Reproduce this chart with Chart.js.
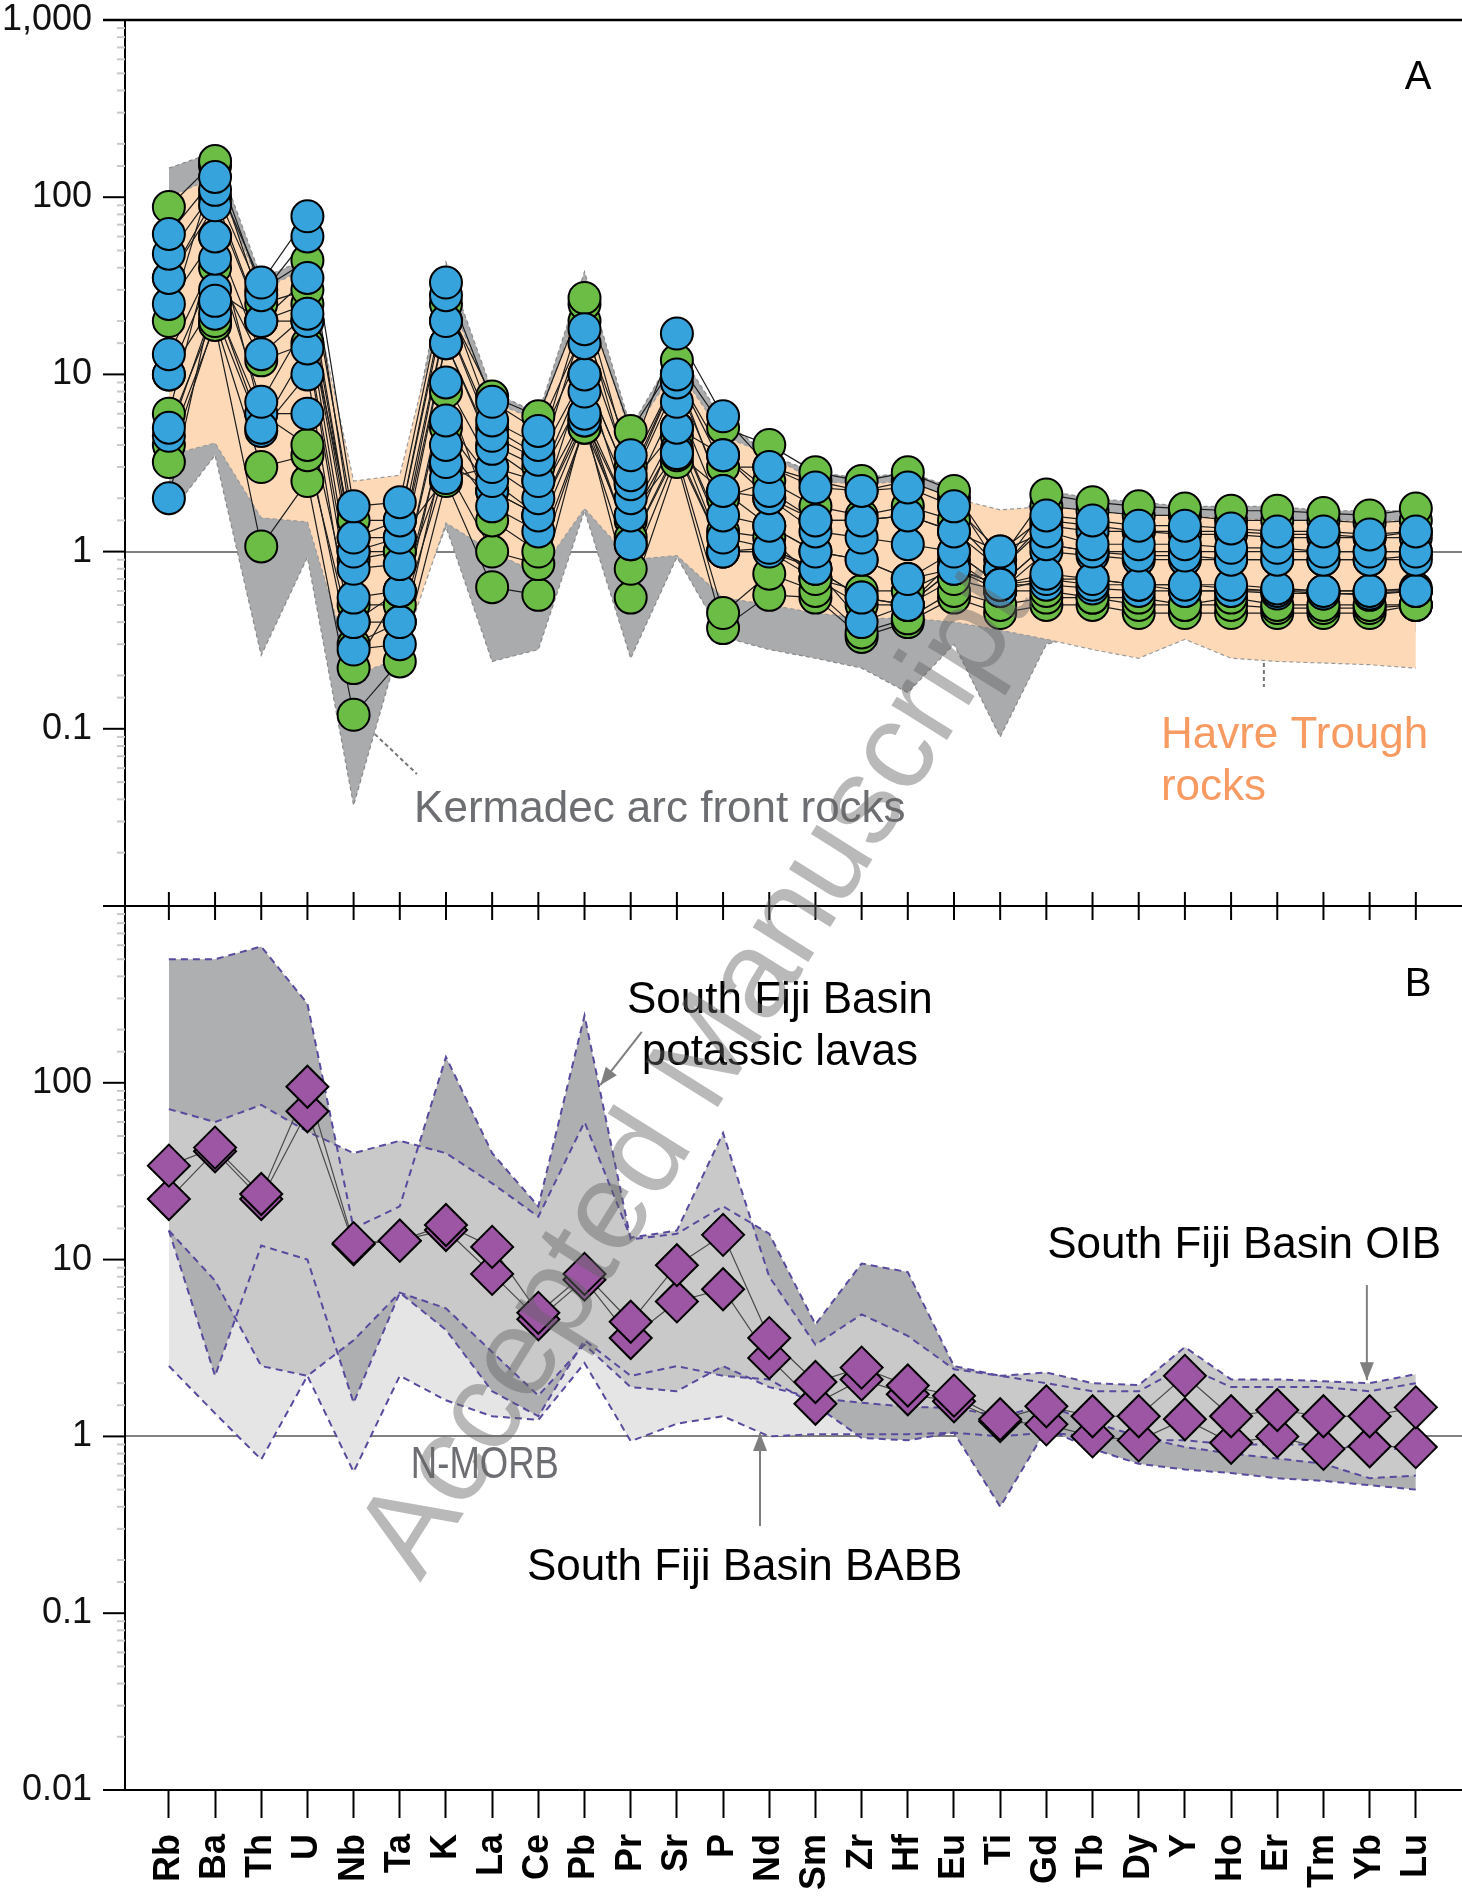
<!DOCTYPE html>
<html lang="en">
<head>
<meta charset="UTF-8" />
<title>Primitive mantle normalised trace elements</title>
<script src="https://cdn.jsdelivr.net/npm/chart.js"></script>
<style>
  body { margin: 0; background: #fff; }
  #wrap { position: relative; width: 1462px; height: 1896px; }
  #wrap canvas { position: absolute; left: 0; top: 0; }
</style>
</head>
<body>
<div id="wrap">
  <canvas id="chartA" width="1462" height="940"></canvas>
  <canvas id="chartB" width="1462" height="1896"></canvas>
</div>
<script>
// ---- data ----
const elements = ['Rb','Ba','Th','U','Nb','Ta','K','La','Ce','Pb','Pr','Sr','P','Nd','Sm','Zr','Hf','Eu','Ti','Gd','Tb','Dy','Y','Ho','Er','Tm','Yb','Lu'];

// panel A fields
const kermadecUpper = [146, 180, 35, 45, 2.0, 2.0, 43, 8, 6, 38, 5, 14, 5.5, 3.5, 2.8, 2.6, 2.8, 2.3, 1.3, 2.2, 2.0, 1.9, 1.8, 1.8, 1.8, 1.7, 1.7, 1.7];
const kermadecLower = [1.6, 3.5, 0.26, 0.93, 0.037, 0.3, 1.38, 0.24, 0.28, 1.7, 0.25, 0.93, 0.33, 0.28, 0.25, 0.22, 0.16, 0.3, 0.09, 0.3, 0.35, 0.35, 0.33, 0.35, 0.35, 0.35, 0.35, 0.35];
const havreUpper = [100, 130, 30, 40, 2.5, 2.7, 30, 7, 5.5, 30, 4.5, 11, 4.5, 3.5, 2.5, 2.4, 2.5, 2.0, 1.72, 1.8, 1.7, 1.6, 1.6, 1.55, 1.5, 1.5, 1.5, 1.5];
const havreLower = [3.5, 4.1, 1.55, 1.47, 0.2, 0.25, 1.45, 1.0, 0.75, 1.75, 0.9, 0.95, 0.55, 0.5, 0.45, 0.42, 0.42, 0.4, 0.36, 0.32, 0.28, 0.25, 0.32, 0.25, 0.24, 0.235, 0.23, 0.22];

// panel A samples
const blueSamples = [
  [62, 130, 33, 78, 1.8, 1.9, 33, 7.0, 4.8, 18, 3.5, 17, 5.8, 3.0, 2.3, 2.2, 2.3, 1.8, 1.0, 1.6, 1.5, 1.4, 1.4, 1.35, 1.3, 1.3, 1.25, 1.3],
  [48, 110, 28, 60, 1.2, 1.5, 28, 5.5, 4.0, 15, 2.7, 10, 3.5, 2.2, 1.5, 1.5, 1.6, 1.3, 1.0, 1.3, 1.1, 1.1, 1.1, 1.05, 1.05, 1.0, 1.0, 1.0],
  [35, 90, 20, 35, 1.0, 1.2, 20, 4.5, 3.3, 10, 2.4, 9, 2.2, 2.0, 1.3, 1.2, 1.1, 1.0, 0.65, 1.1, 1.0, 0.95, 0.95, 0.9, 0.9, 0.9, 0.9, 0.9],
  [25, 60, 13, 22, 0.8, 0.85, 15, 3.8, 2.5, 8, 2.0, 7, 1.6, 1.4, 1.0, 0.9, 0.7, 0.8, 0.65, 0.75, 0.7, 0.65, 0.65, 0.65, 0.62, 0.6, 0.6, 0.6],
  [13, 45, 7, 20, 0.55, 0.6, 9, 3.0, 2.0, 6, 1.6, 5, 1.2, 1.05, 0.8, 0.55, 0.5, 0.8, 0.65, 0.7, 0.65, 0.65, 0.6, 0.6, 0.6, 0.58, 0.58, 0.6],
  [10, 26, 5, 14, 0.4, 0.4, 5.5, 2.5, 1.6, 5.5, 1.1, 3.6, 1.0, 1.0, 0.8, 0.4, 0.5, 0.9, 0.6, 1.0, 0.95, 0.9, 0.9, 0.9, 0.9, 0.9, 0.9, 0.95],
  [5, 22, 4.8, 10, 0.28, 0.3, 4, 1.8, 1.3, 5.5, 1.6, 3.6, 2.2, 1.4, 1.0, 0.9, 0.7, 1.0, 0.65, 1.1, 1.0, 1.0, 1.0, 1.0, 1.0, 1.0, 1.0, 1.0],
  [4.5, 25, 6, 6, 0.4, 0.6, 3.2, 2.2, 1.6, 6, 1.1, 3.8, 1.0, 1.05, 0.8, 0.55, 0.5, 0.8, 0.65, 0.65, 0.62, 0.6, 0.6, 0.6, 0.58, 0.58, 0.57, 0.6],
  [2.0, 30, 20, 20, 1.2, 1.2, 2.6, 3.0, 2.5, 10, 2.4, 5, 3.5, 2.0, 1.5, 1.5, 1.6, 1.3, 0.8, 1.4, 1.3, 1.3, 1.25, 1.25, 1.2, 1.2, 1.2, 1.2]
];
const greenSamples = [
  [88, 160, 30, 44, 1.5, 1.5, 25, 7.5, 5.8, 27, 4.8, 12, 5, 4.0, 2.8, 2.5, 2.8, 2.2, 0.9, 2.1, 1.9, 1.8, 1.75, 1.7, 1.7, 1.65, 1.6, 1.75],
  [20, 150, 25, 30, 1.0, 1.0, 20, 5, 3.5, 25, 3.0, 10, 3.0, 3.0, 2.5, 2.2, 2.5, 2.0, 0.8, 1.8, 1.7, 1.6, 1.6, 1.5, 1.5, 1.5, 1.45, 1.5],
  [6, 60, 6, 4, 0.22, 0.6, 8, 1.5, 1.0, 5, 1.2, 5, 1.3, 1.2, 0.7, 0.5, 0.5, 0.7, 0.6, 0.6, 0.55, 0.55, 0.5, 0.55, 0.5, 0.5, 0.5, 0.5],
  [3.2, 20, 3.0, 3.5, 0.3, 0.4, 3.0, 1.0, 0.85, 5, 0.8, 3.5, 0.45, 0.75, 0.6, 0.35, 0.42, 0.6, 0.5, 0.55, 0.55, 0.5, 0.5, 0.5, 0.48, 0.48, 0.48, 0.5],
  [4, 19, 1.07, 2.5, 0.12, 0.24, 2.5, 0.63, 0.57, 5.5, 0.55, 3.2, 0.37, 0.57, 0.55, 0.33, 0.4, 0.55, 0.45, 0.5, 0.5, 0.45, 0.45, 0.45, 0.45, 0.45, 0.45, 0.5],
  [10, 40, 12, 15, 0.5, 0.5, 5, 2.2, 1.6, 10, 1.5, 4.5, 1.0, 1.0, 0.7, 0.6, 0.6, 0.8, 0.6, 0.7, 0.7, 0.65, 0.65, 0.62, 0.6, 0.6, 0.6, 0.62],
  [35, 100, 20, 25, 0.9, 1.0, 15, 4, 3, 20, 2.5, 10, 2.0, 2.5, 1.8, 1.6, 1.8, 1.5, 0.8, 1.5, 1.4, 1.3, 1.3, 1.3, 1.25, 1.25, 1.2, 1.3]
];

// panel B fields
const potassicUpper = [500, 500, 590, 280, 15, 20, 140, 40, 20, 240, 13, 14, 20, 14, 4.3, 9.5, 8.5, 2.5, 2.2, 2.0, 1.8, 1.8, 2.5, 1.9, 1.9, 1.9, 1.8, 2.0];
const potassicLower = [14.6, 2.2, 12, 10, 1.55, 6.5, 4, 1.8, 1.3, 3.5, 2.2, 2.5, 2.2, 2.1, 1.5, 0.98, 0.95, 1.05, 0.4, 1.1, 0.85, 0.7, 0.65, 0.62, 0.58, 0.56, 0.53, 0.5];
const oibUpper = [71, 60, 75, 53, 40, 47, 40, 27, 17.5, 60, 13.3, 14.6, 52, 8, 3.3, 4.9, 3.7, 2.4, 2.2, 2.3, 2.0, 1.95, 3.2, 2.1, 2.1, 2.05, 2.0, 2.25];
const oibLower = [14.6, 7.6, 2.5, 2.2, 3.5, 6.5, 5.3, 3.0, 1.7, 3.3, 1.9, 1.8, 2.5, 1.9, 1.65, 1.55, 1.47, 1.45, 1.3, 1.5, 1.2, 1.0, 0.87, 0.8, 0.75, 0.7, 0.58, 0.6];
const babbUpper = oibLower;
const babbLower = [2.5, 1.35, 0.74, 2.2, 0.63, 2.2, 1.6, 1.3, 1.24, 2.6, 0.94, 1.18, 1.3, 1.0, 1.03, 1.03, 1.03, 1.05, 1.0, 1.05, 1.0, 0.95, 0.95, 0.9, 0.9, 0.9, 0.85, 0.85];

// panel B samples
const fijiSampleA = [34, 43, 23.5, 95, 12.4, 12.8, 15.7, 11.8, 5.0, 8.3, 4.45, 9.3, 13.8, 3.6, 2.03, 2.45, 1.94, 1.7, 1.25, 1.48, 1.3, 1.3, 2.2, 1.3, 1.41, 1.3, 1.3, 1.46];
const fijiSampleB = [22, 41, 22, 69, 12.2, 12.8, 14.7, 8.3, 4.6, 7.7, 3.6, 5.8, 6.8, 2.78, 1.53, 2.1, 1.73, 1.58, 1.22, 1.17, 1.0, 0.95, 1.25, 0.92, 1.0, 0.85, 0.88, 0.87];

// ---- helpers ----
const FONT = '"Liberation Sans", Arial, Helvetica, sans-serif';
const xy = arr => arr.map((v, i) => ({ x: i, y: v }));
const isDecade = v => Math.abs(Math.log10(v) - Math.round(Math.log10(v))) < 1e-6;

function pointSet(vals, color, style, r) {
  return { data: xy(vals), showLine: false, pointStyle: style, pointRadius: r,
           pointBackgroundColor: color, pointBorderColor: '#000', pointBorderWidth: 2 };
}
function lineSet(vals, color, w) {
  return { data: xy(vals), borderColor: color, borderWidth: w, pointRadius: 0, fill: false };
}
function outlineSet(vals, color, w, dash) {
  return { data: xy(vals), borderColor: color, borderWidth: w, borderDash: dash, pointRadius: 0, fill: false };
}
// upper + lower pair; lower fills up to the previous dataset
function band(upper, lower, fillColor, lineColor, w, dash) {
  return [
    { data: xy(upper), borderColor: lineColor, borderWidth: w, borderDash: dash, pointRadius: 0, fill: false },
    { data: xy(lower), borderColor: lineColor, borderWidth: w, borderDash: dash, pointRadius: 0,
      fill: '-1', backgroundColor: fillColor }
  ];
}

function yAxis(labelFn) {
  return {
    type: 'logarithmic', min: 0.01, max: 1000,
    afterFit: s => { s.width = 125; s.paddingTop = 0; s.paddingBottom = 0; },
    border: { display: true, color: '#000', width: 2 },
    grid: {
      drawTicks: false, lineWidth: 2,
      color: c => (c.tick && c.tick.value === 1) ? '#808080' : 'rgba(0,0,0,0)'
    },
    ticks: {
      autoSkip: false, padding: 33, color: '#111',
      font: { family: FONT, size: 36 },
      callback: labelFn
    }
  };
}
const xBase = { type: 'linear', min: -0.95, max: 28,
  afterBuildTicks: s => { s.ticks = elements.map((e, i) => ({ value: i })); } };

// frame, ticks and annotations
const frame = {
  id: 'frame',
  afterDraw(chart, args, opts) {
    const ctx = chart.ctx, xs = chart.scales.x, ys = chart.scales.y, a = chart.chartArea;
    const P = (i, v) => [xs.getPixelForValue(i), ys.getPixelForValue(v)];
    ctx.save();
    ys.ticks.forEach(t => {
      const py = ys.getPixelForValue(t.value);
      const major = isDecade(t.value);
      ctx.strokeStyle = major ? '#000' : '#c9c9c9';
      ctx.lineWidth = 2;
      ctx.beginPath();
      ctx.moveTo(a.left - (major ? 22 : 8), py);
      ctx.lineTo(a.left, py);
      ctx.stroke();
    });
    ctx.strokeStyle = '#000';
    (opts.hlines || []).forEach(h => {
      const py = h === 'top' ? a.top : a.bottom;
      ctx.lineWidth = h === 'top' ? 2.5 : 2;
      ctx.beginPath(); ctx.moveTo(a.left - 22, py); ctx.lineTo(a.right, py); ctx.stroke();
    });
    if (opts.cross) {
      ctx.lineWidth = 2;
      elements.forEach((e, i) => {
        const px = xs.getPixelForValue(i);
        ctx.beginPath(); ctx.moveTo(px, a.bottom - 14); ctx.lineTo(px, a.bottom + 14); ctx.stroke();
      });
    }
    (opts.notes || []).forEach(n => {
      const [px, py] = P(n.i, n.v);
      ctx.fillStyle = n.color || '#000';
      ctx.font = (n.size || 44) + 'px ' + FONT;
      ctx.textAlign = n.align || 'left';
      ctx.textBaseline = n.base || 'alphabetic';
      ctx.save();
      ctx.translate(px, py);
      ctx.scale(n.sx || 1, 1);
      ctx.fillText(n.text, 0, 0);
      ctx.restore();
    });
    (opts.leaders || []).forEach(l => {
      const [x1, y1] = P(l.from[0], l.from[1]);
      const [x2, y2] = P(l.to[0], l.to[1]);
      ctx.strokeStyle = l.color; ctx.lineWidth = 2;
      ctx.setLineDash(l.dash || []);
      ctx.beginPath(); ctx.moveTo(x1, y1); ctx.lineTo(x2, y2); ctx.stroke();
      ctx.setLineDash([]);
      if (l.arrow) {
        const ang = Math.atan2(y2 - y1, x2 - x1);
        ctx.fillStyle = l.color;
        ctx.beginPath();
        ctx.moveTo(x2, y2);
        ctx.lineTo(x2 - 18 * Math.cos(ang) + 7 * Math.sin(ang), y2 - 18 * Math.sin(ang) - 7 * Math.cos(ang));
        ctx.lineTo(x2 - 18 * Math.cos(ang) - 7 * Math.sin(ang), y2 - 18 * Math.sin(ang) + 7 * Math.cos(ang));
        ctx.closePath(); ctx.fill();
      }
    });
    if (opts.watermark) {
      const w = opts.watermark;
      ctx.save();
      ctx.translate(w.x, w.y);
      ctx.rotate(w.angle * Math.PI / 180);
      ctx.font = w.size + 'px ' + FONT;
      ctx.fillStyle = 'rgba(100,100,100,0.45)';
      ctx.textAlign = 'center'; ctx.textBaseline = 'middle';
      ctx.fillText(w.text, 0, 0);
      ctx.restore();
    }
    ctx.restore();
  }
};

// ---- panel A ----
const dsA = [];
blueSamples.forEach(s => dsA.push(pointSet(s, '#36a3dc', 'circle', 16)));
greenSamples.forEach(s => dsA.push(pointSet(s, '#6bbd45', 'circle', 16)));
blueSamples.concat(greenSamples).forEach(s => dsA.push(lineSet(s, '#1c1c1c', 1.2)));
dsA.push(...band(havreUpper, havreLower, '#fdd9b7', '#9a9a9a', 1.2, [4, 3]));
dsA.push(...band(kermadecUpper, kermadecLower, '#a9abad', '#8a8a8a', 1.2, [4, 3]));

new Chart(document.getElementById('chartA'), {
  type: 'line',
  data: { datasets: dsA },
  options: {
    responsive: false, animation: false, devicePixelRatio: 1, events: [],
    layout: { autoPadding: false, padding: { top: 20, bottom: 34, left: 0, right: 0 } },
    elements: { line: { tension: 0 } },
    scales: {
      x: Object.assign({ display: false }, xBase),
      y: yAxis(v => (isDecade(v) && v >= 0.1) ? (v === 1000 ? '1,000' : String(v)) : '')
    },
    plugins: {
      legend: { display: false }, tooltip: { enabled: false },
      frame: {
        hlines: ['top', 'bottom'], cross: true,
        notes: [
          { text: 'A', i: 27.05, v: 470, size: 40, align: 'center', base: 'middle' },
          { text: 'Havre Trough', i: 21.48, v: 0.078, color: '#f79b63' },
          { text: 'rocks', i: 21.48, v: 0.0396, color: '#f79b63' },
          { text: 'Kermadec arc front rocks', i: 5.31, v: 0.0298, color: '#6d6e71' }
        ],
        leaders: [
          { from: [23.71, 0.2355], to: [23.71, 0.172], color: '#777', dash: [4, 3] },
          { from: [4.46, 0.0933], to: [5.37, 0.0556], color: '#777', dash: [4, 3] }
        ]
      }
    }
  },
  plugins: [frame]
});

// ---- panel B ----
const dsB = [];
[fijiSampleA, fijiSampleB].forEach(s => dsB.push(pointSet(s, '#9c56a3', 'rectRot', 21)));
[fijiSampleA, fijiSampleB].forEach(s => dsB.push(lineSet(s, '#4a4a4a', 1.2)));
[oibUpper, oibLower, potassicUpper, potassicLower, babbLower].forEach(s =>
  dsB.push(outlineSet(s, '#5a4a9e', 2, [7, 5])));
dsB.push(...band(oibUpper, oibLower, '#c9c9c9', 'rgba(0,0,0,0)', 0, []));
dsB.push(...band(potassicUpper, potassicLower, '#adafb1', 'rgba(0,0,0,0)', 0, []));
dsB.push(...band(babbUpper, babbLower, '#e5e5e5', 'rgba(0,0,0,0)', 0, []));

new Chart(document.getElementById('chartB'), {
  type: 'line',
  data: { datasets: dsB },
  options: {
    responsive: false, animation: false, devicePixelRatio: 1, events: [],
    layout: { autoPadding: false, padding: { top: 906, bottom: 0, left: 0, right: 0 } },
    elements: { line: { tension: 0 } },
    scales: {
      x: Object.assign({
        afterFit: s => { s.height = 106; s.paddingLeft = 0; s.paddingRight = 0; },
        border: { display: false },
        grid: { drawOnChartArea: false, drawTicks: true, tickLength: 28, tickWidth: 2, tickColor: '#000' },
        ticks: {
          autoSkip: false, maxRotation: 90, minRotation: 90, padding: 16, color: '#000',
          font: { family: FONT, size: 36, weight: 'bold' },
          callback: v => elements[v]
        }
      }, xBase),
      y: yAxis(v => (isDecade(v) && v <= 100) ? String(v) : '')
    },
    plugins: {
      legend: { display: false }, tooltip: { enabled: false },
      frame: {
        hlines: ['bottom'],
        notes: [
          { text: 'B', i: 27.05, v: 357, size: 40, align: 'center', base: 'middle' },
          { text: 'South Fiji Basin', i: 13.23, v: 248, align: 'center' },
          { text: 'potassic lavas', i: 13.23, v: 126, align: 'center' },
          { text: 'South Fiji Basin OIB', i: 19.02, v: 10.2 },
          { text: 'South Fiji Basin BABB', i: 7.755, v: 0.154 },
          { text: 'N-MORB', i: 5.24, v: 0.582, color: '#6d6e71', size: 44, sx: 0.83 }
        ],
        leaders: [
          { from: [10.24, 194], to: [9.34, 97], color: '#7f7f7f', arrow: true },
          { from: [25.94, 7.18], to: [25.94, 2.08], color: '#7f7f7f', arrow: true },
          { from: [12.8, 0.311], to: [12.8, 1.045], color: '#7f7f7f', arrow: true }
        ],
        watermark: { text: 'Accepted Manuscript', x: 698, y: 1074, angle: -58, size: 124 }
      }
    }
  },
  plugins: [frame]
});
</script>
</body>
</html>
